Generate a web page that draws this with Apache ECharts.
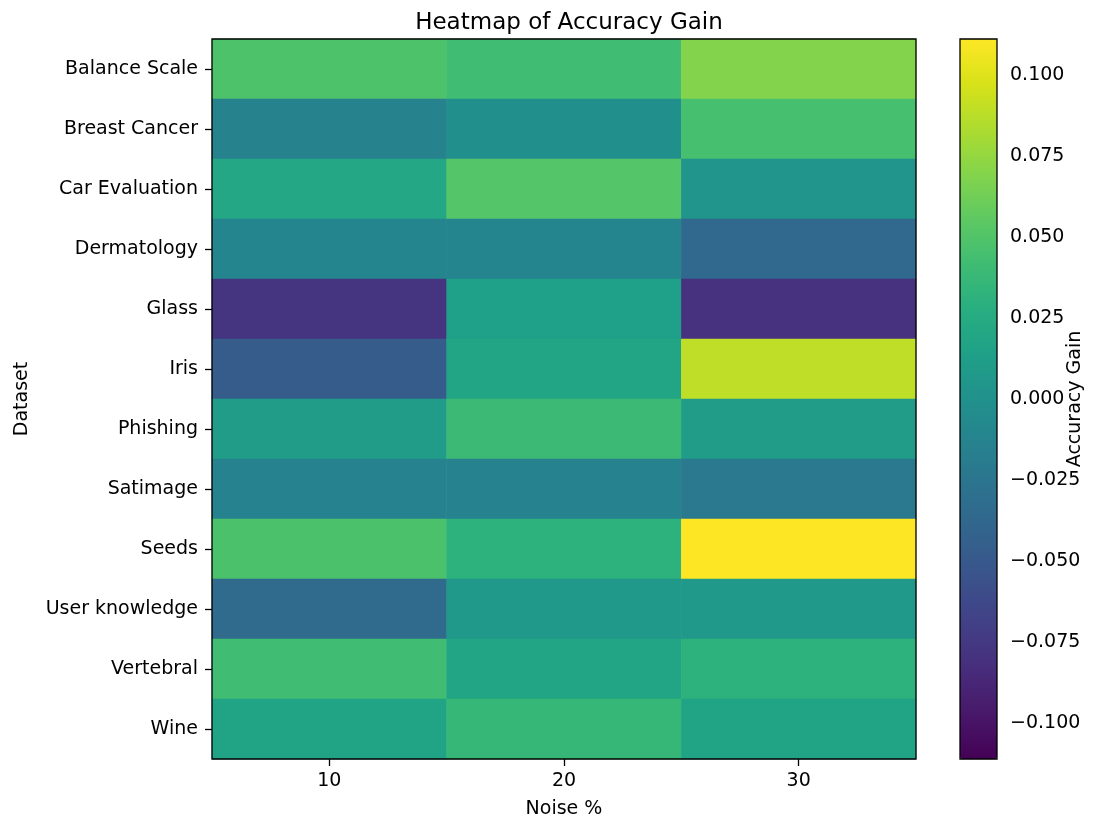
<!DOCTYPE html>
<html>
<head>
<meta charset="utf-8">
<script src="https://cdn.jsdelivr.net/npm/echarts@6/dist/echarts.min.js"></script>
<style>
  html, body { margin: 0; padding: 0; background: #fff; }
  #chart { width: 1113px; height: 820px; }
</style>
</head>
<body>
<div id="chart"></div>
<script>
// data
var noiseLevels = ['10', '20', '30'];
var datasets = ['Balance Scale', 'Breast Cancer', 'Car Evaluation', 'Dermatology', 'Glass', 'Iris',
    'Phishing', 'Satimage', 'Seeds', 'User knowledge', 'Vertebral', 'Wine'];
// one array per noise level, in dataset order
var gain10 = [0.048, -0.013, 0.021, -0.011, -0.078, -0.047, 0.010, -0.014, 0.047, -0.035, 0.042, 0.017];
var gain20 = [0.042, -0.001, 0.051, -0.011, 0.014, 0.019, 0.040, -0.014, 0.031, 0.007, 0.019, 0.037];
var gain30 = [0.069, 0.045, 0.003, -0.036, -0.080, 0.089, 0.010, -0.022, 0.1111, 0.007, 0.031, 0.017];
var colorTicks = [-0.1, -0.075, -0.05, -0.025, 0, 0.025, 0.05, 0.075, 0.1];

var viridis = ['#440154', '#48186a', '#472d7b', '#424086', '#3b528b', '#33638d', '#2c728e', '#26828e',
    '#21918c', '#1fa088', '#28ae80', '#3fbc73', '#5ec962', '#84d44b', '#addc30', '#d8e219', '#fde725'];

var cols = [gain10, gain20, gain30];
var cells = [];
cols.forEach(function (arr, i) {
    arr.forEach(function (v, j) {
        cells.push([i, j, v]);
    });
});
var vmax = Math.max.apply(null, cells.map(function (c) { return Math.abs(c[2]); }));

var font = 'DejaVu Sans';
var fs = 19;
var chart = echarts.init(document.getElementById('chart'));

var option = {
    backgroundColor: '#fff',
    textStyle: { fontFamily: font },
    title: {
        text: 'Heatmap of Accuracy Gain',
        left: 564, top: 7, textAlign: 'center',
        textStyle: { fontFamily: font, fontSize: 23, fontWeight: 'normal', color: '#000' }
    },
    grid: [
        { left: 212, top: 39, width: 704, height: 720, show: true, borderColor: '#000', borderWidth: 1.3, z: 10,
          containLabel: false, outerBoundsMode: 'none' },
        { left: 960, top: 39, width: 37, height: 720, show: true, borderColor: '#000', borderWidth: 1.3, z: 10,
          containLabel: false, outerBoundsMode: 'none' }
    ],
    xAxis: [{
        type: 'category', data: noiseLevels, gridIndex: 0,
        name: 'Noise %', nameLocation: 'middle', nameGap: 41,
        nameTextStyle: { fontFamily: font, fontSize: fs, color: '#000' },
        axisLine: { show: false },
        axisTick: { show: true, alignWithLabel: true, length: 7, lineStyle: { color: '#000', width: 1.3 } },
        axisLabel: { fontFamily: font, fontSize: fs, color: '#000', margin: 13 },
        splitLine: { show: false }
    }, {
        type: 'value', gridIndex: 1, show: false
    }],
    yAxis: [{
        type: 'category', data: datasets, gridIndex: 0, inverse: true,
        name: 'Dataset', nameLocation: 'middle', nameGap: 180, nameRotate: 90,
        nameMoveOverlap: false,
        nameTextStyle: { fontFamily: font, fontSize: fs, color: '#000' },
        axisLine: { show: false },
        axisTick: { show: true, alignWithLabel: true, length: 7, lineStyle: { color: '#000', width: 1.3 } },
        axisLabel: { fontFamily: font, fontSize: fs, color: '#000', margin: 14 },
        splitLine: { show: false }
    }, {
        type: 'value', gridIndex: 1, position: 'right', min: -vmax, max: vmax,
        name: 'Accuracy Gain', nameLocation: 'middle', nameGap: 69, nameRotate: 90,
        nameMoveOverlap: false,
        nameTextStyle: { fontFamily: font, fontSize: fs, color: '#000' },
        axisLine: { show: false },
        axisTick: { show: true, length: 7, lineStyle: { color: '#000', width: 1.3 }, customValues: colorTicks },
        axisLabel: {
            fontFamily: font, fontSize: fs, color: '#000', margin: 13, customValues: colorTicks,
            formatter: function (v) { return (v < 0 ? '\u2212' : '') + Math.abs(v).toFixed(3); }
        },
        splitLine: { show: false }
    }],
    visualMap: {
        type: 'continuous', seriesIndex: 0,
        min: -vmax, max: vmax,
        calculable: false, hoverLink: false,
        orient: 'vertical', left: 960, top: 39, padding: 0,
        itemWidth: 37, itemHeight: 720, text: null, showLabel: false,
        inRange: { color: viridis }
    },
    series: [{
        type: 'heatmap', xAxisIndex: 0, yAxisIndex: 0,
        data: cells,
        itemStyle: { borderWidth: 0 },
        emphasis: { disabled: true }
    }]
};

chart.setOption(option);
</script>
</body>
</html>
